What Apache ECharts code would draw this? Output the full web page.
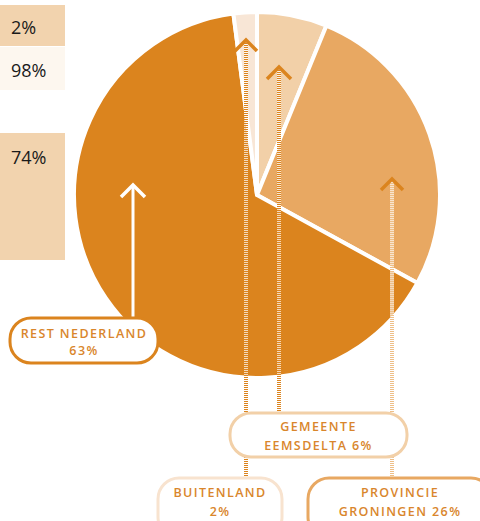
<!DOCTYPE html>
<html>
<head>
<meta charset="utf-8">
<script src="https://cdn.jsdelivr.net/npm/echarts@6/dist/echarts.min.js"></script>
<style>
html,body{margin:0;padding:0;background:#fff}
#c{width:480px;height:521px}
#c text[fill="#d9862c"]{letter-spacing:1.4px}
</style>
</head>
<body>
<div id="c"></div>
<script>
// Data
var categories = ['Gemeente Eemsdelta', 'Provincie Groningen', 'Rest Nederland', 'Buitenland'];
var values = [6, 26, 63, 2];
var labelLines1 = ['GEMEENTE', 'PROVINCIE', 'REST NEDERLAND', 'BUITENLAND'];
var labelLines2 = ['EEMSDELTA 6%', 'GRONINGEN 26%', '63%', '2%'];
var sideLabels = ['2%', '98%', '74%'];

var sliceColors = ['#f2d0a8', '#e8a862', '#db841e', '#f8e6d6'];
var ORANGE = '#db841e';
var TXT = '#d9862c';
var FONT = '"Open Sans", Lato, sans-serif';

var chart = echarts.init(document.getElementById('c'), null, {renderer: 'svg'});

// layout of side boxes
var sideBoxes = [
  {y: 5, h: 41, fill: '#f2d3ae', ty: 27},
  {y: 47, h: 43, fill: '#fdf7ef', ty: 70},
  {y: 133, h: 127, fill: '#f2d3ae', ty: 157}
];
// layout of callouts (per category index)
var callouts = [
  {box: [230, 413, 177, 44], stroke: '#f2d0a8', t1: 426, t2: 445, lx: 279, tip: 67, lineColor: ORANGE, headColor: ORANGE, arm: 12},
  {box: [308, 478, 184, 60], stroke: '#e8a862', t1: 492, t2: 511, lx: 392, tip: 179, lineColor: '#eebf88', headColor: ORANGE, arm: 11},
  {box: [10, 318, 148, 45], stroke: ORANGE, t1: 333, t2: 350, lx: 133, tip: 185, lineColor: '#ffffff', headColor: '#ffffff', arm: 12, solid: true},
  {box: [158, 478, 124, 60], stroke: '#f8e3cf', t1: 492, t2: 511, lx: 246, tip: 40, lineColor: ORANGE, headColor: ORANGE, arm: 11}
];

var graphics = [];
sideBoxes.forEach(function (b, i) {
  graphics.push({type: 'rect', shape: {x: 0, y: b.y, width: 65, height: b.h}, style: {fill: b.fill}, z: 1});
  graphics.push({type: 'text', x: 11, y: b.ty, style: {text: sideLabels[i], font: '18px ' + FONT, fill: '#1a1a1a', textVerticalAlign: 'middle'}, z: 2});
});

callouts.forEach(function (c, i) {
  var bx = c.box[0], by = c.box[1], bw = c.box[2], bh = c.box[3];
  var cx = bx + bw / 2;
  if (c.solid) {
    graphics.push({type: 'line', shape: {x1: c.lx, y1: by, x2: c.lx, y2: c.tip + 1}, style: {stroke: '#ffffff', lineWidth: 3}, z: 10});
  } else {
    graphics.push({type: 'line', shape: {x1: c.lx, y1: by, x2: c.lx, y2: c.tip + 2}, style: {stroke: 'rgba(255,255,255,0.7)', lineWidth: 4}, z: 10});
    graphics.push({type: 'line', shape: {x1: c.lx, y1: by, x2: c.lx, y2: c.tip + 2}, style: {stroke: c.lineColor, lineWidth: 4, lineDash: [1, 1]}, z: 11});
  }
  graphics.push({type: 'polyline', shape: {points: [[c.lx - c.arm, c.tip + c.arm], [c.lx, c.tip], [c.lx + c.arm, c.tip + c.arm]]}, style: {stroke: c.headColor, lineWidth: 3.5, fill: null}, z: 12});
  graphics.push({type: 'rect', shape: {x: bx, y: by, width: bw, height: bh, r: 21}, style: {fill: '#ffffff', stroke: c.stroke, lineWidth: 3}, z: 20});
  graphics.push({type: 'text', x: cx, y: c.t1, style: {text: labelLines1[i], font: '600 12.5px ' + FONT, fill: TXT, textAlign: 'center', textVerticalAlign: 'middle'}, z: 21});
  graphics.push({type: 'text', x: cx, y: c.t2, style: {text: labelLines2[i], font: '600 12.5px ' + FONT, fill: TXT, textAlign: 'center', textVerticalAlign: 'middle'}, z: 21});
});

chart.setOption({
  animation: false,
  backgroundColor: '#ffffff',
  series: [{
    type: 'pie',
    center: [257, 195],
    radius: [0, 183],
    startAngle: 90,
    clockwise: true,
    silent: true,
    label: {show: false},
    labelLine: {show: false},
    itemStyle: {borderColor: '#ffffff', borderWidth: 4},
    data: categories.map(function (n, i) {
      return {name: n, value: values[i], itemStyle: {color: sliceColors[i]}};
    })
  }],
  graphic: graphics
});

function spaceLetters() {
  var ts = document.querySelectorAll('#c text');
  for (var k = 0; k < ts.length; k++) {
    var f = (ts[k].getAttribute('fill') || ts[k].style.fill || '').toLowerCase();
    if (f.indexOf('d9862c') >= 0 || f.indexOf('217, 134, 44') >= 0) ts[k].style.letterSpacing = '1.4px';
  }
}
spaceLetters();
chart.on('finished', spaceLetters);
</script>
</body>
</html>
